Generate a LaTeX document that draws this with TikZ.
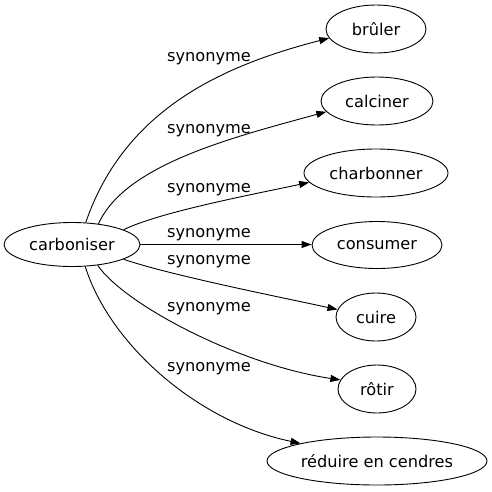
\documentclass[tikz,border=0pt]{standalone}
\usepackage{fontspec}
\setmainfont{DejaVu Sans}
\usetikzlibrary{shapes.geometric,arrows.meta}
\begin{document}
\begin{tikzpicture}[x=1pt,y=-1pt,
  word/.style={ellipse,draw,line width=0.9pt,inner sep=0pt,font=\fontsize{16.2}{19}\selectfont},
  rel/.style={font=\fontsize{16.2}{19}\selectfont,inner sep=0pt},
  link/.style={line width=0.9pt,-{Triangle[length=10pt,width=7pt]}}]
\useasboundingbox (0,0) rectangle (492,491);
\node[word,minimum width=136pt,minimum height=44pt] (c) at (72,244.5) {carboniser};
\node[word,minimum width=100pt,minimum height=48pt] (t1) at (376,29) {brûler};
\node[word,minimum width=112pt,minimum height=48pt] (t2) at (377,101) {calciner};
\node[word,minimum width=144pt,minimum height=48pt] (t3) at (376,173) {charbonner};
\node[word,minimum width=130pt,minimum height=47pt] (t4) at (377,245) {consumer};
\node[word,minimum width=80pt,minimum height=48pt] (t5) at (376,317) {cuire};
\node[word,minimum width=78pt,minimum height=48pt] (t6) at (377,389) {rôtir};
\node[word,minimum width=220pt,minimum height=48pt] (t7) at (377,461) {réduire en cendres};
\node[rel] (l1) at (209,58.5) {synonyme};
\node[rel] (l2) at (209,130.5) {synonyme};
\node[rel] (l3) at (209,189.5) {synonyme};
\node[rel] (l4) at (209,235) {synonyme};
\node[rel] (l5) at (209,262) {synonyme};
\node[rel] (l6) at (209,308.5) {synonyme};
\node[rel] (l7) at (209,368.5) {synonyme};
\draw[link] (c.58) .. controls (125,108) and (225,65) .. (t1.191);
\draw[link] (c.38) .. controls (125,165) and (230,138) .. (t2.192);
\draw[link] (c.16) .. controls (160,212) and (250,195) .. (t3.188);
\draw[link] (c.east) -- (c.east -| t4.west);
\draw[link] (c.-16) .. controls (170,275) and (270,295) .. (t5.169);
\draw[link] (c.-39) .. controls (125,305) and (240,365) .. (t6.166);
\draw[link] (c.-59) .. controls (110,345) and (198,422) .. (t7.167.5);
\end{tikzpicture}
\end{document}
